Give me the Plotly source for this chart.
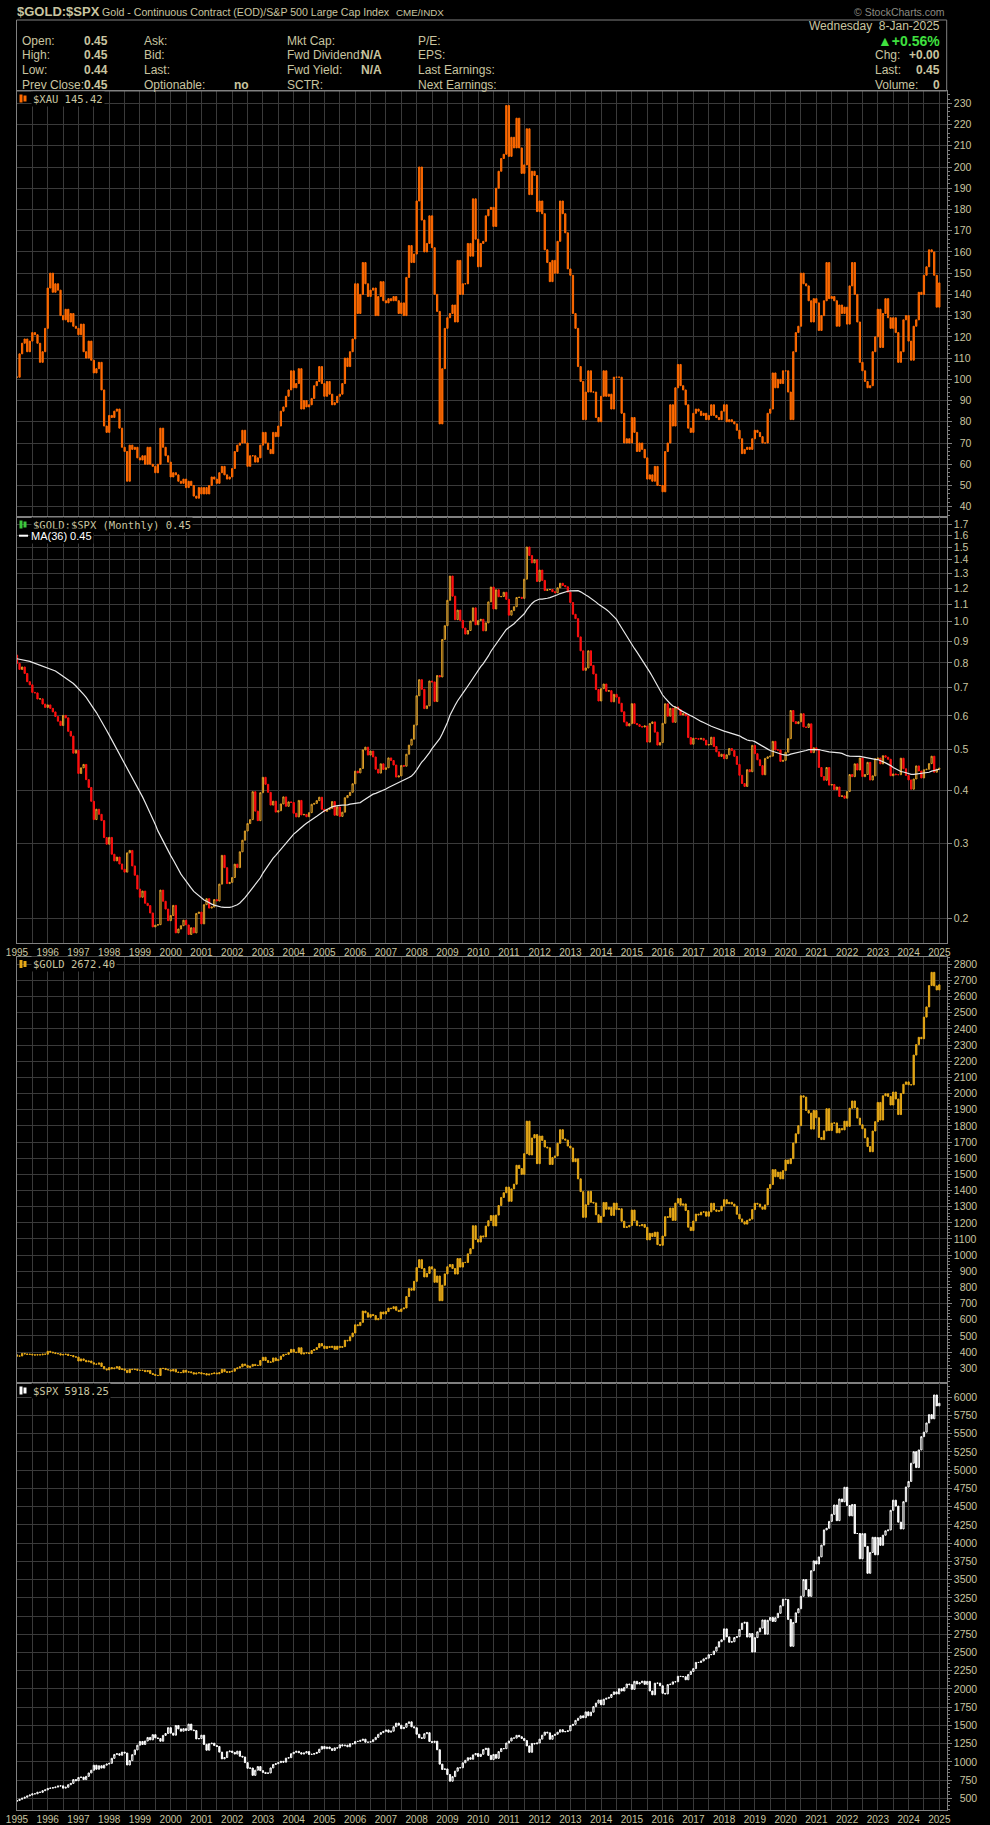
import numpy as np
import pandas as pd
import plotly.graph_objects as go

W, H = 990, 1825

# ---------------- DATA (monthly closes, month-start positions) ----------------
START_YEAR = 1995
# history used only to seed the 36-month moving average (1992-01 .. 1994-12)
gold_hist = [354, 353, 341, 337, 337, 343, 357, 340, 349, 339, 334, 333,
             330, 328, 337, 355, 378, 378, 402, 372, 355, 369, 371, 391,
             378, 381, 390, 376, 388, 386, 385, 386, 395, 384, 383, 383]
spx_hist = [409, 413, 404, 415, 415, 408, 424, 414, 418, 419, 431, 436,
            439, 443, 452, 440, 450, 451, 448, 464, 459, 468, 462, 466,
            482, 467, 446, 451, 457, 444, 458, 475, 463, 472, 454, 459]

gold = [
    375, 376, 392, 389, 385, 387, 383, 382, 384, 383, 387, 387,   # 1995
    405, 400, 396, 391, 390, 382, 385, 387, 379, 379, 371, 369,   # 1996
    345, 358, 349, 340, 345, 334, 326, 325, 333, 311, 296, 290,   # 1997
    304, 297, 301, 310, 293, 296, 288, 273, 294, 292, 294, 288,   # 1998
    287, 287, 279, 286, 268, 262, 256, 255, 299, 299, 292, 290,   # 1999
    283, 293, 277, 274, 273, 288, 276, 278, 273, 264, 270, 273,   # 2000
    265, 267, 258, 264, 267, 271, 266, 273, 293, 279, 275, 279,   # 2001
    282, 297, 302, 309, 326, 318, 305, 313, 324, 317, 318, 348,   # 2002
    368, 348, 336, 339, 364, 347, 355, 375, 385, 386, 398, 417,   # 2003
    400, 397, 427, 388, 394, 396, 391, 410, 416, 428, 453, 438,   # 2004
    422, 435, 429, 436, 417, 436, 429, 434, 473, 470, 495, 518,   # 2005
    569, 564, 584, 654, 643, 616, 633, 626, 600, 606, 648, 636,   # 2006
    651, 672, 669, 681, 659, 651, 667, 673, 744, 793, 783, 838,   # 2007
    923, 972, 917, 865, 887, 928, 914, 832, 871, 718, 814, 884,   # 2008
    928, 942, 917, 883, 979, 926, 954, 955, 1008, 1040, 1182, 1097,  # 2009
    1081, 1119, 1113, 1180, 1213, 1245, 1181, 1248, 1307, 1357, 1386, 1421,  # 2010
    1333, 1410, 1439, 1556, 1536, 1500, 1628, 1829, 1620, 1725, 1746, 1566,  # 2011
    1737, 1710, 1669, 1664, 1561, 1604, 1614, 1692, 1776, 1719, 1712, 1675,  # 2012
    1663, 1578, 1596, 1472, 1393, 1234, 1312, 1395, 1327, 1323, 1250, 1202,  # 2013
    1240, 1326, 1284, 1296, 1246, 1322, 1282, 1287, 1210, 1171, 1175, 1184,  # 2014
    1279, 1212, 1183, 1182, 1190, 1172, 1095, 1135, 1115, 1142, 1065, 1061,  # 2015
    1118, 1238, 1234, 1291, 1215, 1322, 1350, 1309, 1317, 1276, 1173, 1152,  # 2016
    1211, 1254, 1249, 1266, 1268, 1241, 1268, 1321, 1280, 1271, 1275, 1303,  # 2017
    1343, 1318, 1327, 1316, 1303, 1253, 1224, 1206, 1192, 1215, 1223, 1282,  # 2018
    1321, 1316, 1298, 1284, 1311, 1413, 1437, 1529, 1485, 1514, 1472, 1523,  # 2019
    1589, 1566, 1597, 1694, 1751, 1801, 1986, 1978, 1895, 1879, 1780, 1895,  # 2020
    1850, 1728, 1715, 1769, 1906, 1771, 1817, 1818, 1757, 1784, 1775, 1829,  # 2021
    1797, 1909, 1954, 1911, 1848, 1807, 1782, 1726, 1672, 1640, 1768, 1826,  # 2022
    1945, 1836, 1986, 1999, 1982, 1929, 2009, 1966, 1870, 2000, 2057, 2072,  # 2023
    2054, 2054, 2238, 2303, 2348, 2339, 2473, 2536, 2668, 2750, 2666, 2641,  # 2024
    2672.4,                                                                    # 2025
]

spx = [
    470, 487, 501, 515, 533, 545, 562, 562, 584, 582, 605, 616,   # 1995
    636, 640, 646, 654, 669, 671, 640, 652, 687, 705, 757, 741,   # 1996
    786, 791, 757, 801, 848, 885, 954, 899, 947, 915, 955, 970,   # 1997
    980, 1049, 1102, 1112, 1091, 1134, 1121, 957, 1017, 1099, 1164, 1229,  # 1998
    1280, 1238, 1286, 1335, 1302, 1373, 1329, 1320, 1283, 1363, 1389, 1469,  # 1999
    1394, 1366, 1499, 1452, 1421, 1455, 1431, 1518, 1437, 1429, 1315, 1320,  # 2000
    1366, 1240, 1160, 1249, 1256, 1224, 1211, 1134, 1041, 1060, 1139, 1148,  # 2001
    1130, 1107, 1147, 1077, 1067, 990, 912, 916, 815, 886, 936, 880,         # 2002
    856, 841, 848, 917, 964, 975, 990, 1008, 996, 1051, 1058, 1112,          # 2003
    1131, 1145, 1126, 1107, 1121, 1141, 1102, 1104, 1115, 1130, 1174, 1212,  # 2004
    1181, 1204, 1181, 1157, 1192, 1191, 1234, 1220, 1229, 1207, 1249, 1248,  # 2005
    1280, 1281, 1295, 1311, 1270, 1270, 1277, 1304, 1336, 1378, 1401, 1418,  # 2006
    1438, 1407, 1421, 1482, 1531, 1503, 1455, 1474, 1527, 1549, 1481, 1468,  # 2007
    1379, 1331, 1323, 1386, 1400, 1280, 1267, 1283, 1166, 969, 896, 903,     # 2008
    826, 735, 798, 873, 919, 919, 987, 1021, 1057, 1036, 1096, 1115,         # 2009
    1074, 1104, 1169, 1187, 1089, 1031, 1102, 1049, 1141, 1183, 1181, 1258,  # 2010
    1286, 1327, 1326, 1364, 1345, 1321, 1292, 1219, 1131, 1253, 1247, 1258,  # 2011
    1312, 1366, 1408, 1398, 1310, 1362, 1379, 1407, 1441, 1412, 1416, 1426,  # 2012
    1498, 1515, 1569, 1598, 1631, 1606, 1686, 1633, 1682, 1757, 1806, 1848,  # 2013
    1783, 1859, 1872, 1884, 1924, 1960, 1931, 2003, 1972, 2018, 2068, 2059,  # 2014
    1995, 2105, 2068, 2086, 2107, 2063, 2104, 1972, 1920, 2079, 2080, 2044,  # 2015
    1940, 1932, 2060, 2065, 2097, 2099, 2174, 2171, 2168, 2126, 2199, 2239,  # 2016
    2279, 2364, 2363, 2384, 2412, 2423, 2470, 2472, 2519, 2575, 2648, 2674,  # 2017
    2824, 2714, 2641, 2648, 2705, 2718, 2816, 2902, 2914, 2712, 2760, 2507,  # 2018
    2704, 2784, 2834, 2946, 2752, 2942, 2980, 2926, 2977, 3038, 3141, 3231,  # 2019
    3226, 2954, 2585, 2912, 3044, 3100, 3271, 3500, 3363, 3270, 3622, 3756,  # 2020
    3714, 3811, 3973, 4181, 4204, 4298, 4395, 4523, 4308, 4605, 4567, 4766,  # 2021
    4516, 4374, 4530, 4132, 4132, 3785, 4130, 3955, 3586, 3872, 4080, 3840,  # 2022
    4077, 3970, 4109, 4169, 4180, 4450, 4589, 4508, 4288, 4194, 4568, 4770,  # 2023
    4846, 5096, 5254, 5036, 5278, 5460, 5522, 5648, 5762, 5705, 6032, 5882,  # 2024
    5918.25,                                                                  # 2025
]

xau = [
    101, 112, 117, 119, 113, 118, 122, 121, 117, 108, 113, 124,   # 1995
    143, 150, 141, 145, 142, 130, 128, 133, 127, 131, 125, 124,   # 1996
    121, 126, 113, 110, 118, 109, 103, 105, 108, 95, 78, 75,      # 1997
    83, 82, 85, 86, 77, 68, 66, 52, 69, 67, 68, 63,               # 1998
    62, 64, 60, 68, 60, 59, 56, 60, 77, 68, 64, 61,               # 1999
    54, 56, 55, 52, 51, 53, 49, 52, 50, 45, 44, 49,               # 2000
    46, 49, 46, 50, 54, 53, 51, 56, 59, 55, 53, 54,               # 2001
    58, 66, 69, 70, 76, 70, 59, 64, 64, 61, 63, 69,               # 2002
    75, 70, 67, 65, 75, 73, 78, 85, 87, 92, 95, 104,              # 2003
    96, 98, 105, 86, 90, 87, 88, 91, 97, 99, 106, 98,             # 2004
    92, 99, 93, 88, 89, 92, 93, 98, 110, 106, 113, 119,           # 2005
    145, 131, 140, 155, 145, 139, 142, 143, 130, 139, 146, 137,   # 2006
    136, 138, 137, 139, 137, 131, 136, 130, 148, 163, 155, 159,   # 2007
    184, 200, 175, 160, 164, 177, 162, 140, 132, 79, 105, 124,    # 2008
    129, 131, 135, 127, 156, 140, 145, 145, 164, 158, 185, 166,   # 2009
    153, 164, 165, 177, 180, 181, 172, 190, 198, 204, 206, 229,   # 2010
    205, 214, 209, 223, 209, 197, 201, 218, 187, 198, 196, 179,   # 2011
    184, 178, 161, 155, 146, 156, 150, 165, 184, 178, 169, 152,   # 2012
    149, 131, 124, 106, 99, 81, 94, 104, 94, 94, 82, 80,          # 2013
    92, 104, 92, 93, 86, 101, 101, 101, 84, 70, 72, 70,           # 2014
    82, 75, 66, 70, 67, 63, 53, 55, 52, 59, 50, 50,               # 2015
    47, 66, 70, 88, 78, 96, 107, 97, 95, 88, 77, 75,              # 2016
    84, 86, 85, 83, 84, 81, 83, 88, 83, 82, 81, 85,               # 2017
    88, 80, 81, 80, 79, 76, 72, 65, 67, 68, 67, 72,               # 2018
    76, 75, 73, 70, 70, 84, 86, 103, 96, 100, 98, 104,            # 2019
    104, 94, 81, 113, 122, 125, 150, 145, 144, 137, 127, 138,     # 2020
    136, 123, 130, 137, 155, 138, 139, 137, 125, 135, 131, 134,   # 2021
    126, 144, 155, 140, 127, 108, 104, 99, 96, 97, 113, 120,      # 2022
    133, 115, 131, 138, 129, 124, 129, 122, 108, 113, 128, 130,   # 2023
    118, 109, 125, 128, 141, 140, 149, 153, 161, 160, 149, 134,   # 2024
    145.42,                                                        # 2025
]

year_labels = [str(y) for y in range(1995, 2026)]
xau_ticks = list(range(40, 240, 10))
ratio_ticks = [0.2, 0.3, 0.4, 0.5, 0.6, 0.7, 0.8, 0.9, 1.0, 1.1, 1.2, 1.3, 1.4, 1.5, 1.6, 1.7]
gold_ticks = list(range(300, 2900, 100))
spx_ticks = list(range(500, 6250, 250))

header_rows = [("Open:", "0.45", "Ask:", "", "Mkt Cap:", "", "P/E:"),
               ("High:", "0.45", "Bid:", "", "Fwd Dividend:", "N/A", "EPS:"),
               ("Low:", "0.44", "Last:", "", "Fwd Yield:", "N/A", "Last Earnings:"),
               ("Prev Close:", "0.45", "Optionable:", "no", "SCTR:", "", "Next Earnings:")]

assert len(gold) == len(spx) == len(xau) == 361

# ---------------- helpers (viewport pixels -> paper) ----------------
def px(x):
    return x / W


def py(y):
    return 1 - y / H


KHAKI = "#c9c5a0"
GRID = "#3a3a3a"
BORDER = "#808080"
XL, XR = 16.5, 946.7
X0, X1 = 1994.984, 2025.24

n = len(gold)
xs = START_YEAR + np.arange(n) / 12.0


def ohlc(closes, first_open=None):
    c = np.asarray(closes, dtype=float)
    o = np.empty_like(c)
    o[0] = c[0] if first_open is None else first_open
    o[1:] = c[:-1]
    hi = np.maximum(o, c)
    lo = np.minimum(o, c)
    return o, hi, lo, c


gold_all = np.array(gold_hist + gold, dtype=float)
spx_all = np.array(spx_hist + spx, dtype=float)
ratio_all = gold_all / spx_all
ma36 = pd.Series(ratio_all).rolling(36).mean().to_numpy()[len(gold_hist):]
ratio = ratio_all[len(gold_hist):]

fig = go.Figure()


def candle(closes, first_open, xa, ya, up, down, upfill=None, downfill=None):
    o, hi, lo, c = ohlc(closes, first_open)
    fig.add_trace(go.Candlestick(
        x=xs, open=o, high=hi, low=lo, close=c, xaxis=xa, yaxis=ya,
        increasing=dict(line=dict(color=up, width=1), fillcolor=upfill or up),
        decreasing=dict(line=dict(color=down, width=1), fillcolor=downfill or down),
        whiskerwidth=0, showlegend=False, hoverinfo="skip"))


candle(xau, None, "x", "y", "#ff6a00", "#ff6a00")
candle(list(ratio), ratio_all[len(gold_hist) - 1], "x2", "y2", "#e0a028", "#ff1010",
       upfill="rgba(0,0,0,0)")
fig.add_trace(go.Scatter(x=xs, y=ma36, mode="lines", xaxis="x2", yaxis="y2",
                         line=dict(color="#e8e8e8", width=1.2), hoverinfo="skip", showlegend=False))
candle(gold, gold_hist[-1], "x3", "y3", "#e6a817", "#e6a817")
candle(spx, spx_hist[-1], "x4", "y4", "#ffffff", "#ffffff", upfill="rgba(0,0,0,0)")

# ---------------- axes ----------------
panels = [(91, 517), (517, 943.3), (957.3, 1383.3), (1383.3, 1810)]
half_years = [1995 + 0.5 * k for k in range(61)]
half_text = [year_labels[k // 2] if k % 2 == 0 else "" for k in range(61)]
tickfont = dict(family="Liberation Sans, Arial", size=10.5, color=KHAKI)
xtickfont = dict(family="Liberation Sans, Arial", size=10, color=KHAKI)

for i, (top, bot) in enumerate(panels, start=1):
    sfx = "" if i == 1 else str(i)
    fig.layout["xaxis" + sfx] = dict(
        domain=[px(XL), px(XR)], range=[X0, X1], anchor="y" + sfx,
        tickvals=half_years, ticktext=half_text, showticklabels=(i in (2, 4)),
        ticks="", tickfont=xtickfont, showgrid=True, gridcolor=GRID, gridwidth=1,
        showline=True, mirror=True, linecolor=BORDER, linewidth=1, zeroline=False,
        rangeslider=dict(visible=False), fixedrange=True, automargin=False)


def rj(s, w):
    return s.rjust(w, "\u2007")


y_specs = [
    (xau_ticks, [rj(str(v), 3) for v in xau_ticks], [35.15, 235.8], "linear", 2),
    (ratio_ticks, ["%.1f" % v for v in ratio_ticks],
     [np.log10(0.1746), np.log10(1.766)], "log", None),
    (gold_ticks, [rj(str(v), 4) for v in gold_ticks], [207, 2843], "linear", 20),
    (spx_ticks, [rj(str(v), 4) for v in spx_ticks], [340, 6192], "linear", 50),
]
for i, ((top, bot), (tv, tt, rng, typ, mdt)) in enumerate(zip(panels, y_specs), start=1):
    sfx = "" if i == 1 else str(i)
    ax = dict(domain=[py(bot), py(top)], range=rng, type=typ, anchor="x" + sfx,
              side="right", tickvals=tv, ticktext=tt, ticks="outside", ticklen=4,
              tickcolor=BORDER, tickfont=tickfont, showgrid=True, gridcolor=GRID,
              gridwidth=1, showline=True, mirror=True, linecolor=BORDER, linewidth=1,
              zeroline=False, fixedrange=True, automargin=False)
    if mdt:
        ax["minor"] = dict(dtick=mdt, ticks="outside", ticklen=2, tickcolor=BORDER, showgrid=False)
    fig.layout["yaxis" + sfx] = ax

# ---------------- header / annotations ----------------
ann = []
shapes = []


def text(t, x, y, xanchor="left", size=12, color=KHAKI, bold=False,
         family="Liberation Sans, Arial", bg=None):
    if bold:
        t = "<b>%s</b>" % t
    a = dict(text=t, x=px(x), y=py(y), xref="paper", yref="paper", xanchor=xanchor,
             yanchor="middle", showarrow=False, font=dict(family=family, size=size, color=color),
             borderpad=1)
    if bg:
        a["bgcolor"] = bg
    ann.append(a)


text("$GOLD:$SPX", 15, 12, size=13, bold=True)
text("Gold - Continuous Contract (EOD)/S&P 500 Large Cap Index", 100, 12, size=10.6)
text("CME/INDX", 394, 12.5, size=9.8)
text("© StockCharts.com", 947, 12, xanchor="right", size=10.5, color="#8a8a80")

shapes.append(dict(type="rect", xref="paper", yref="paper", x0=px(XL), x1=px(XR),
                   y0=py(91), y1=py(20), line=dict(color=BORDER, width=1)))

row_y = [41.3, 55.3, 70, 84.6]
for (l1, v1, l2, v2, l3, v3, l4), yy in zip(header_rows, row_y):
    text(l1, 19.5, yy)
    text(v1, 110, yy, xanchor="right", bold=True)
    text(l2, 142, yy)
    if v2:
        text(v2, 251, yy, xanchor="right", bold=True)
    text(l3, 284.5, yy)
    if v3:
        text(v3, 384, yy, xanchor="right", bold=True)
    text(l4, 416, yy)

text("Wednesday  8-Jan-2025", 942, 26, xanchor="right")
text("▲+0.56%", 942, 41.3, xanchor="right", size=14, color="#3fe03f", bold=True)
text("Chg:", 873, 55.3)
text("+0.00", 942, 55.3, xanchor="right", bold=True)
text("Last:", 873, 70)
text("0.45", 942, 70, xanchor="right", bold=True)
text("Volume:", 873, 84.6)
text("0", 942, 84.6, xanchor="right", bold=True)

MONO = "DejaVu Sans Mono, monospace"


def icon(xc, yc, color):
    for dx, h in [(-3.5, 8), (0.5, 6)]:
        shapes.append(dict(type="rect", xref="paper", yref="paper",
                           x0=px(xc + dx), x1=px(xc + dx + 3), y0=py(yc + h / 2), y1=py(yc - h / 2),
                           fillcolor=color, line=dict(width=0)))


icon(23, 98.5, "#ff6a00")
text("$XAU 145.42", 30.5, 99, size=10.5, family=MONO, bg="black")
icon(23, 524.5, "#3cc83c")
text("$GOLD:$SPX (Monthly) 0.45", 30.5, 524.7, size=10.5, family=MONO, bg="black")
shapes.append(dict(type="line", xref="paper", yref="paper", x0=px(19), x1=px(28),
                   y0=py(535.7), y1=py(535.7), line=dict(color="white", width=2)))
text("MA(36) 0.45", 28.5, 535.9, size=11, color="white", bg="black")
icon(23, 964, "#e6a817")
text("$GOLD 2672.40", 30.5, 964.3, size=10.5, family=MONO, bg="black")
icon(23, 1390.5, "#ffffff")
text("$SPX 5918.25", 30.5, 1390.7, size=10.5, family=MONO, bg="black")

fig.update_layout(width=W, height=H, autosize=False,
                  margin=dict(l=0, r=0, t=0, b=0, pad=0),
                  paper_bgcolor="black", plot_bgcolor="black",
                  showlegend=False, hovermode=False,
                  annotations=ann, shapes=shapes)

# remove the default page margin so the figure sits at the window's top-left corner
fig.write_html("out.html",
               config={"displayModeBar": False},
               post_script="document.body.style.margin='0';document.body.style.background='black';"
                           "document.documentElement.style.overflow='hidden';")
